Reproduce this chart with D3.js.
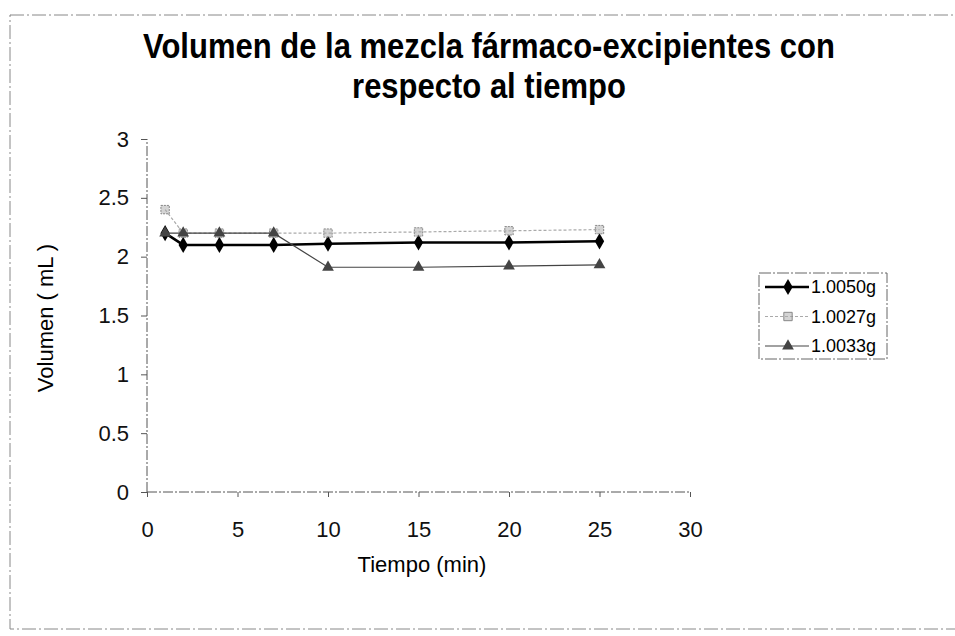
<!DOCTYPE html>
<html>
<head>
<meta charset="utf-8">
<script src="https://cdn.jsdelivr.net/npm/d3@7"></script>
<style>
  body { margin: 0; background: #fff; }
  text { font-family: "Liberation Sans", Arial, sans-serif; }
</style>
</head>
<body>
<svg id="chart" width="955" height="636"></svg>
<script>
// data
const tiempo = [1, 2, 4, 7, 10, 15, 20, 25]
const serie1 = [2.2, 2.1, 2.1, 2.1, 2.11, 2.12, 2.12, 2.13] // 1.0050g
const serie2 = [2.4, 2.2, 2.2, 2.2, 2.2, 2.21, 2.22, 2.23]  // 1.0027g
const serie3 = [2.2, 2.2, 2.2, 2.2, 1.91, 1.91, 1.92, 1.93] // 1.0033g
const nombres = ['1.0050g', '1.0027g', '1.0033g']
const xTicks = [0, 5, 10, 15, 20, 25, 30]
const yTicks = [0, 0.5, 1, 1.5, 2, 2.5, 3]

const svg = d3.select('#chart')

// plot area
const plotLeft = 147, plotRight = 690, plotTop = 139, plotBottom = 492

const xScale = d3.scaleLinear().domain([0, 30]).range([plotLeft, plotRight])
const yScale = d3.scaleLinear().domain([0, 3]).range([plotBottom, plotTop])

// chart border (scanned, faint)
svg.append('rect')
  .attr('x', 10).attr('y', 15)
  .attr('width', 960).attr('height', 614)
  .attr('fill', 'none')
  .attr('stroke', '#888')
  .attr('stroke-width', 1)
  .attr('stroke-dasharray', '14 3 2 3')

// title (the scan is a bit stretched vertically)
const title = svg.append('g').attr('transform', 'translate(489,0) scale(1,1.12)')
title.append('text')
  .attr('x', 0).attr('y', 52)
  .attr('text-anchor', 'middle')
  .style('font-size', '31px').style('font-weight', 'bold')
  .text('Volumen de la mezcla fármaco-excipientes con')
title.append('text')
  .attr('x', 0).attr('y', 87.5)
  .attr('text-anchor', 'middle')
  .style('font-size', '31px').style('font-weight', 'bold')
  .text('respecto al tiempo')

// axes
const yAxis = d3.axisLeft(yScale).tickValues(yTicks).tickSize(6).tickPadding(12)
  .tickFormat(d => d)
const xAxis = d3.axisBottom(xScale).tickValues(xTicks).tickSize(5).tickPadding(24)
  .tickFormat(d => d)

const gy = svg.append('g').attr('transform', `translate(${plotLeft},0)`).call(yAxis)
const gx = svg.append('g').attr('transform', `translate(0,${plotBottom})`).call(xAxis)

svg.selectAll('.domain').attr('stroke', '#555').attr('stroke-dasharray', '10 2 2 2')
svg.selectAll('.tick line').attr('stroke', '#555')
svg.selectAll('.tick text').style('font-size', '22px').attr('fill', '#111')
gx.select('.domain').attr('d', `M${plotLeft},0H${plotRight}`)
gy.select('.domain').attr('d', `M0,${plotBottom}V${plotTop}`)

// axis labels
svg.append('text')
  .attr('transform', 'rotate(-90)')
  .attr('x', -318).attr('y', 53)
  .attr('text-anchor', 'middle')
  .style('font-size', '22px')
  .text('Volumen ( mL )')
svg.append('text')
  .attr('x', 422).attr('y', 572)
  .attr('text-anchor', 'middle')
  .style('font-size', '22px')
  .text('Tiempo (min)')

const series = [
  { name: nombres[0], values: serie1, color: '#000', width: 2.5, dash: null, symbol: d3.symbolDiamond, size: 75 },
  { name: nombres[1], values: serie2, color: '#aaa', width: 1.2, dash: '3 2', symbol: d3.symbolSquare, size: 70 },
  { name: nombres[2], values: serie3, color: '#444', width: 1.2, dash: null, symbol: d3.symbolTriangle, size: 60 }
]

const line = d3.line()
  .x((d, i) => xScale(tiempo[i]))
  .y(d => yScale(d))

series.forEach(s => {
  svg.append('path')
    .datum(s.values)
    .attr('d', line)
    .attr('fill', 'none')
    .attr('stroke', s.color)
    .attr('stroke-width', s.width)
    .attr('stroke-dasharray', s.dash)

  svg.selectAll(null)
    .data(s.values)
    .enter()
    .append('path')
    .attr('d', d3.symbol().type(s.symbol).size(s.size))
    .attr('transform', (d, i) => `translate(${xScale(tiempo[i])},${yScale(d)})`)
    .attr('fill', s.color)
    .attr('stroke', s.symbol === d3.symbolSquare ? '#888' : 'none')
    .attr('stroke-dasharray', s.symbol === d3.symbolSquare ? '2 1' : null)
    .attr('fill-opacity', s.symbol === d3.symbolSquare ? 0.5 : 1)
})

// legend
const legend = svg.append('g').attr('transform', 'translate(759,273)')
legend.append('rect')
  .attr('width', 128).attr('height', 86)
  .attr('fill', '#fff')
  .attr('stroke', '#666')
  .attr('stroke-dasharray', '12 2 2 2')

series.forEach((s, i) => {
  const y = 14 + i * 29.5
  legend.append('line')
    .attr('x1', 6).attr('x2', 50).attr('y1', y).attr('y2', y)
    .attr('stroke', s.color)
    .attr('stroke-width', s.width)
    .attr('stroke-dasharray', s.dash)
  legend.append('path')
    .attr('d', d3.symbol().type(s.symbol).size(s.size))
    .attr('transform', `translate(29,${y})`)
    .attr('fill', s.color)
    .attr('stroke', s.symbol === d3.symbolSquare ? '#888' : 'none')
    .attr('fill-opacity', s.symbol === d3.symbolSquare ? 0.5 : 1)
  legend.append('text')
    .attr('x', 52).attr('y', y + 6)
    .style('font-size', '18px')
    .text(s.name)
})
</script>
</body>
</html>
